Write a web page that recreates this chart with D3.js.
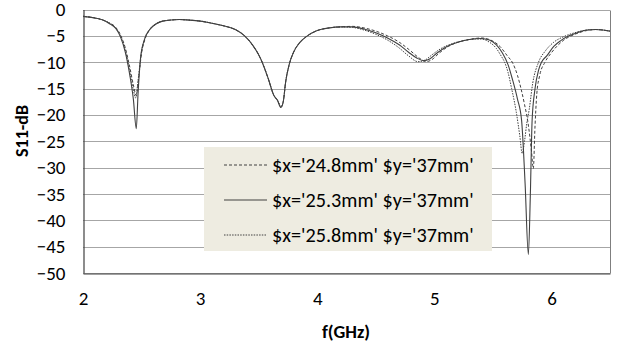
<!DOCTYPE html>
<html>
<head>
<meta charset="utf-8">
<script src="https://cdn.jsdelivr.net/npm/d3@7"></script>
<style>
  body { margin: 0; background: #fff; }
  svg { display: block; font-family: Carlito, Lato, "Open Sans", sans-serif; }
</style>
</head>
<body>
<svg id="chart" width="619" height="349"></svg>
<script>
// tick values
const xTicks = [2, 3, 4, 5, 6];
const yTicks = [0, -5, -10, -15, -20, -25, -30, -35, -40, -45, -50];

const seriesNames = ["$x='24.8mm' $y='37mm'", "$x='25.3mm' $y='37mm'", "$x='25.8mm' $y='37mm'"];

// [f (GHz), S11 (dB)]
const s248 = [
  [2.00, -1.3], [2.10, -1.6], [2.17, -2.0], [2.22, -2.5], [2.28, -3.4], [2.32, -4.8], [2.36, -7.2],
  [2.40, -11.0], [2.43, -14.3], [2.455, -16.3], [2.475, -13.0], [2.50, -8.3], [2.53, -5.6],
  [2.58, -3.6], [2.63, -2.7], [2.68, -2.2], [2.75, -2.0], [2.82, -1.9], [2.90, -2.0], [3.00, -2.2],
  [3.10, -2.6], [3.20, -3.1], [3.30, -3.8], [3.38, -5.0], [3.45, -6.8], [3.52, -9.5], [3.58, -13.0],
  [3.63, -16.3], [3.66, -17.2], [3.69, -18.4], [3.71, -17.5], [3.73, -13.8], [3.76, -10.5],
  [3.80, -8.0], [3.85, -6.3], [3.91, -5.1], [4.00, -4.0], [4.10, -3.5], [4.20, -3.3], [4.30, -3.2],
  [4.40, -3.5], [4.50, -4.1], [4.60, -5.0], [4.70, -6.2], [4.80, -7.9], [4.87, -9.2], [4.93, -9.9],
  [4.98, -9.5], [5.04, -8.3], [5.12, -7.0], [5.22, -6.1], [5.32, -5.6], [5.40, -5.4], [5.50, -6.0],
  [5.56, -7.0], [5.62, -8.7], [5.67, -10.2], [5.71, -12.5], [5.74, -15.0], [5.77, -18.0],
  [5.80, -21.5], [5.83, -27.0], [5.845, -30.2], [5.86, -22.0], [5.875, -16.0], [5.90, -12.5],
  [5.945, -10.0], [6.00, -8.2], [6.10, -5.9], [6.20, -4.7], [6.30, -4.0], [6.38, -3.8],
  [6.44, -3.9], [6.50, -4.1]
];

const s253 = [
  [2.00, -1.3], [2.10, -1.6], [2.17, -2.0], [2.22, -2.6], [2.28, -3.6], [2.32, -5.2], [2.36, -8.0],
  [2.40, -12.5], [2.43, -17.0], [2.455, -22.6], [2.47, -16.0], [2.49, -9.5], [2.52, -6.0],
  [2.57, -3.8], [2.62, -2.8], [2.68, -2.2], [2.75, -2.0], [2.82, -1.9], [2.90, -2.0], [3.00, -2.2],
  [3.10, -2.6], [3.20, -3.1], [3.30, -3.8], [3.38, -5.0], [3.45, -6.8], [3.52, -9.5], [3.58, -13.0],
  [3.63, -16.3], [3.66, -17.2], [3.69, -18.6], [3.71, -17.5], [3.73, -13.8], [3.76, -10.5],
  [3.80, -8.0], [3.85, -6.3], [3.91, -5.1], [4.00, -4.0], [4.10, -3.5], [4.20, -3.3], [4.30, -3.3],
  [4.40, -3.7], [4.50, -4.4], [4.60, -5.4], [4.70, -6.7], [4.78, -8.1], [4.85, -9.2], [4.91, -9.7],
  [4.96, -9.4], [5.02, -8.3], [5.10, -7.1], [5.20, -6.2], [5.30, -5.7], [5.40, -5.5], [5.47, -5.8],
  [5.53, -6.7], [5.58, -8.2], [5.63, -10.5], [5.67, -13.5], [5.71, -17.0], [5.745, -21.0],
  [5.775, -33.0], [5.803, -46.5], [5.82, -35.0], [5.835, -21.0], [5.86, -15.0], [5.89, -11.5],
  [5.915, -10.0], [5.96, -8.8], [6.02, -7.0], [6.08, -5.9], [6.15, -5.0], [6.22, -4.4],
  [6.30, -3.9], [6.38, -3.8], [6.44, -3.9], [6.50, -4.1]
];

const s258 = [
  [2.00, -1.3], [2.10, -1.6], [2.17, -2.0], [2.22, -2.5], [2.28, -3.5], [2.32, -5.0], [2.36, -7.6],
  [2.40, -11.8], [2.43, -15.2], [2.45, -16.8], [2.47, -13.5], [2.50, -8.0], [2.53, -5.4],
  [2.58, -3.5], [2.63, -2.6], [2.68, -2.2], [2.75, -2.0], [2.82, -1.9], [2.90, -2.0], [3.00, -2.2],
  [3.10, -2.6], [3.20, -3.1], [3.30, -3.8], [3.38, -5.0], [3.45, -6.8], [3.52, -9.5], [3.58, -13.0],
  [3.63, -16.3], [3.66, -17.2], [3.69, -18.5], [3.71, -17.5], [3.73, -13.8], [3.76, -10.5],
  [3.80, -8.0], [3.85, -6.3], [3.91, -5.1], [4.00, -4.0], [4.10, -3.5], [4.20, -3.3], [4.30, -3.4],
  [4.40, -3.9], [4.50, -4.7], [4.60, -5.8], [4.70, -7.3], [4.78, -8.8], [4.86, -9.9], [4.92, -9.6],
  [4.98, -8.6], [5.05, -7.5], [5.15, -6.5], [5.25, -5.9], [5.35, -5.6], [5.40, -5.6], [5.47, -6.2],
  [5.53, -7.4], [5.57, -8.8], [5.60, -10.0], [5.63, -12.0], [5.66, -15.0], [5.70, -19.5],
  [5.73, -24.0], [5.75, -27.3], [5.77, -25.0], [5.79, -21.5], [5.81, -19.0], [5.84, -14.0],
  [5.89, -10.0], [5.95, -7.8], [6.02, -6.2], [6.10, -5.2], [6.20, -4.4], [6.30, -3.9],
  [6.38, -3.8], [6.44, -3.9], [6.50, -4.1]
];

const svg = d3.select("#chart");

const x = d3.scaleLinear().domain([2, 6.5]).range([83, 610]);
const y = d3.scaleLinear().domain([0, -50]).range([9.5, 273]);

// gridlines
svg.append("g")
  .selectAll("line")
  .data(yTicks)
  .enter()
  .append("line")
  .attr("x1", x(2))
  .attr("x2", x(6.5))
  .attr("y1", d => Math.round(y(d)) + 0.5)
  .attr("y2", d => Math.round(y(d)) + 0.5)
  .attr("stroke", "#a6a6a6")
  .attr("stroke-width", 1);

// right border
svg.append("line")
  .attr("x1", Math.round(x(6.5)) + 0.5).attr("x2", Math.round(x(6.5)) + 0.5)
  .attr("y1", Math.round(y(0)) + 0.5).attr("y2", Math.round(y(-50)) + 0.5)
  .attr("stroke", "#7f7f7f");

// axes
const yAxis = svg.append("g")
  .attr("transform", `translate(${Math.round(x(2)) + 0.5},0)`)
  .call(d3.axisLeft(y).tickValues(yTicks).tickSize(0).tickPadding(18).tickFormat(d3.format("d")));
const xAxis = svg.append("g")
  .attr("transform", `translate(0,${Math.round(y(-50)) + 0.5})`)
  .call(d3.axisBottom(x).tickValues(xTicks).tickSize(0).tickPadding(18).tickFormat(d3.format("d")));

[yAxis, xAxis].forEach(g => {
  g.select(".domain").attr("stroke", "#404040").attr("stroke-width", 1.2);
  g.selectAll("text").attr("font-family", "Carlito, Lato, sans-serif").attr("font-size", 19).attr("fill", "#000");
});

// curves
const line = d3.line()
  .x(d => x(d[0]))
  .y(d => y(d[1]))
  .curve(d3.curveMonotoneX);

const styles = [
  { data: s248, dash: "3,2", width: 1 },
  { data: s253, dash: null, width: 1.1 },
  { data: s258, dash: "1.5,1.2", width: 1 }
];

svg.append("g")
  .selectAll("path")
  .data(styles)
  .enter()
  .append("path")
  .attr("d", d => line(d.data))
  .attr("fill", "none")
  .attr("stroke", "#404040")
  .attr("stroke-width", d => d.width)
  .attr("stroke-dasharray", d => d.dash);

// legend
const legend = svg.append("g");
legend.append("rect")
  .attr("x", 204).attr("y", 147).attr("width", 288).attr("height", 104)
  .attr("fill", "#eeece1");

const rows = legend.selectAll("g.row")
  .data(styles)
  .enter()
  .append("g")
  .attr("class", "row")
  .attr("transform", (d, i) => `translate(0,${165 + i * 35})`);

rows.append("line")
  .attr("x1", 224).attr("x2", 267)
  .attr("stroke", "#404040")
  .attr("stroke-width", d => d.width)
  .attr("stroke-dasharray", d => d.dash);

rows.append("text")
  .attr("x", 272)
  .attr("dy", "0.35em")
  .attr("font-size", 20.2)
  .attr("fill", "#000")
  .text((d, i) => seriesNames[i]);

// axis titles
svg.append("text")
  .attr("x", 346).attr("y", 338)
  .attr("text-anchor", "middle")
  .attr("font-size", 18.5).attr("font-weight", "bold")
  .text("f(GHz)");

svg.append("text")
  .attr("transform", "translate(28,131) rotate(-90)")
  .attr("text-anchor", "middle")
  .attr("font-size", 18).attr("font-weight", "bold")
  .text("S11-dB");
</script>
</body>
</html>
